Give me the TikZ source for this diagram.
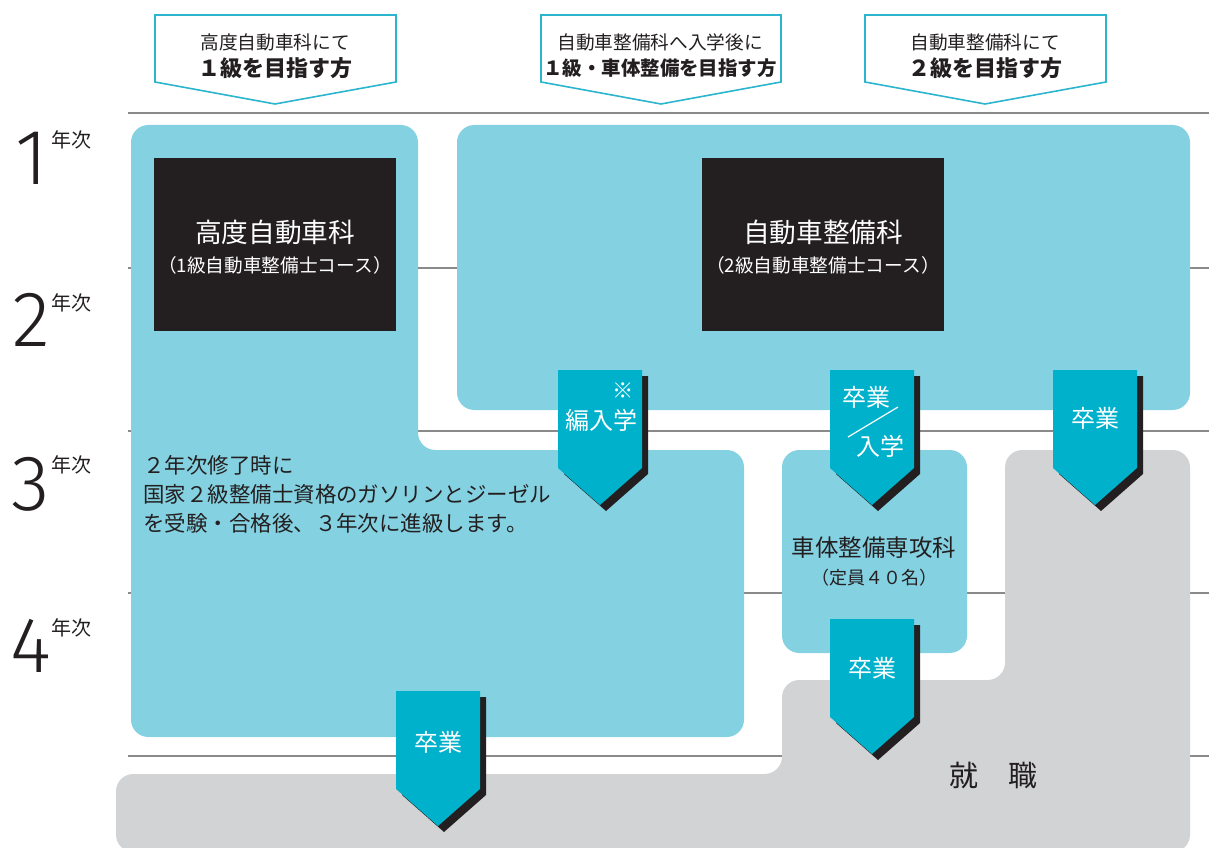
\documentclass[tikz,border=0pt]{standalone}
\usepackage{fontspec}
\setmainfont{Noto Sans CJK JP}
\newfontfamily\thindigits{Fira Sans Light}
\definecolor{lblue}{HTML}{84D1E1}
\definecolor{acyan}{HTML}{00B1CB}
\definecolor{hcyan}{HTML}{2BB5CE}
\definecolor{gbox}{HTML}{D1D3D5}
\definecolor{kbox}{HTML}{231F20}
\definecolor{tcol}{HTML}{231F20}
\definecolor{rule}{HTML}{8A8A8A}
\tikzset{
  gridline/.style={draw=rule, line width=1.1pt},
  hdrbox/.style={draw=hcyan, fill=white, line width=1.2pt},
  hdrA/.style={font=\fontsize{14}{16}\selectfont, text=tcol, inner sep=0pt},
  hdrB/.style={font=\fontsize{16.5}{19}\selectfont\bfseries, text=tcol, inner sep=0pt},
  ktitle/.style={font=\fontsize{20}{24}\selectfont, text=white, inner sep=0pt},
  ksub/.style={font=\fontsize{14}{16}\selectfont, text=white, inner sep=0pt},
  arrtext/.style={font=\fontsize{18}{20}\selectfont, text=white, inner sep=0pt},
  para/.style={font=\fontsize{16.1}{19}\selectfont, text=tcol, inner sep=0pt, anchor=west},
  yeardigit/.style={font=\thindigits\fontsize{59}{62}\selectfont, text=tcol, inner sep=0pt, anchor=base east},
  yearsup/.style={font=\fontsize{15}{17}\selectfont, text=tcol, inner sep=0pt, anchor=west},
}
\newcommand\pentarrow[2]{%
  \begin{scope}[shift={(#1,#2)}]
    \fill[kbox] (-36,6) -- (48,6) -- (48,104) -- (6,141) -- (-36,104) -- cycle;
    \fill[acyan] (-42,0) -- (42,0) -- (42,98) -- (0,135) -- (-42,98) -- cycle;
  \end{scope}}
\begin{document}
\begin{tikzpicture}[x=0.75pt,y=-0.75pt]
\useasboundingbox (0,0) rectangle (1209,848);
\clip (0,0) rectangle (1209,848);
% horizontal rules
\foreach \yy in {113,268,431,593,756} \draw[gridline] (128,\yy) -- (1209,\yy);
% header pentagons
\draw[hdrbox] (155,15) -- (396,15) -- (396,82) -- (275,104) -- (155,82) -- cycle;
\draw[hdrbox] (541,15) -- (781,15) -- (781,82) -- (661,104) -- (541,82) -- cycle;
\draw[hdrbox] (865,15) -- (1106,15) -- (1106,82) -- (985,104) -- (865,82) -- cycle;
\node[hdrA] (h1a) at (275,42) {高度自動車科にて};
\node[hdrB] (h1b) at (275,68) {１級を目指す方};
\node[hdrA] (h2a) at (660,42) {自動車整備科へ入学後に};
\node[hdrB, font=\fontsize{14.6}{18}\selectfont\bfseries] (h2b) at (660,68) {１級・車体整備を目指す方};
\node[hdrA] (h3a) at (985,42) {自動車整備科にて};
\node[hdrB] (h3b) at (985,68) {２級を目指す方};
% year labels
\node[yeardigit] (y1) at (48,185) {1};
\node[yearsup] (y1s) at (51,140) {年次};
\node[yeardigit] (y2) at (50,347) {2};
\node[yearsup] (y2s) at (51,303) {年次};
\node[yeardigit] (y3) at (50,510) {3};
\node[yearsup] (y3s) at (51,465) {年次};
\node[yeardigit] (y4) at (52,672) {4};
\node[yearsup] (y4s) at (51,628) {年次};
% regions
\fill[lblue, rounded corners=13pt] (131,125) -- (418,125) -- (418,450) -- (744,450) -- (744,737) -- (131,737) -- cycle;
\fill[lblue, rounded corners=13pt] (457,125) rectangle (1190,410);
\fill[lblue, rounded corners=13pt] (782,450) rectangle (967,653);
\fill[gbox, rounded corners=13pt] (1005,450) -- (1190,450) -- (1190,852) -- (116,852) -- (116,774) -- (782,774) -- (782,680) -- (1005,680) -- cycle;
% black boxes
\fill[kbox] (154,158) rectangle (396,331);
\fill[kbox] (702,158) rectangle (944,331);
\node[ktitle] (k1) at (275,232) {高度自動車科};
\node[ksub] (k1s) at (275,265) {（1級自動車整備士コース）};
\node[ktitle] (k2) at (823,232) {自動車整備科};
\node[ksub] (k2s) at (823,265) {（2級自動車整備士コース）};
% paragraph
\node[para] (p1) at (143,465) {２年次修了時に};
\node[para] (p2) at (143,494) {国家２級整備士資格のガソリンとジーゼル};
\node[para] (p3) at (143,523) {を受験・合格後、３年次に進級します。};
% small course
\node[font=\fontsize{17.6}{20}\selectfont, text=tcol, inner sep=0pt] (c1) at (874,548) {車体整備専攻科};
\node[font=\fontsize{13.5}{16}\selectfont, text=tcol, inner sep=0pt] (c1s) at (874,578) {（定員４０名）};
% employment
\node[font=\fontsize{21.75}{24}\selectfont, text=tcol, inner sep=0pt] (s1) at (964,775) {就};
\node[font=\fontsize{21.75}{24}\selectfont, text=tcol, inner sep=0pt] (s2) at (1023,775) {職};
% arrows
\pentarrow{600}{370}
\node[font=\fontsize{16}{17}\selectfont\bfseries, text=white, inner sep=0pt] (a1m) at (623,391) {※};
\node[arrtext] (a1) at (601,420) {編入学};
\pentarrow{872}{370}
\node[arrtext] (a2a) at (866,397) {卒業};
\node[arrtext] (a2b) at (880,446) {入学};
\coordinate (d1) at (848,437);
\coordinate (d2) at (898,407);
\draw[white, line width=0.9pt] (d1) -- (d2);
\pentarrow{1095}{370}
\node[arrtext] (a3) at (1095,418) {卒業};
\pentarrow{872}{619}
\node[arrtext] (a4) at (872,668) {卒業};
\pentarrow{438}{691}
\node[arrtext] (a5) at (438,742) {卒業};
\end{tikzpicture}
\end{document}
